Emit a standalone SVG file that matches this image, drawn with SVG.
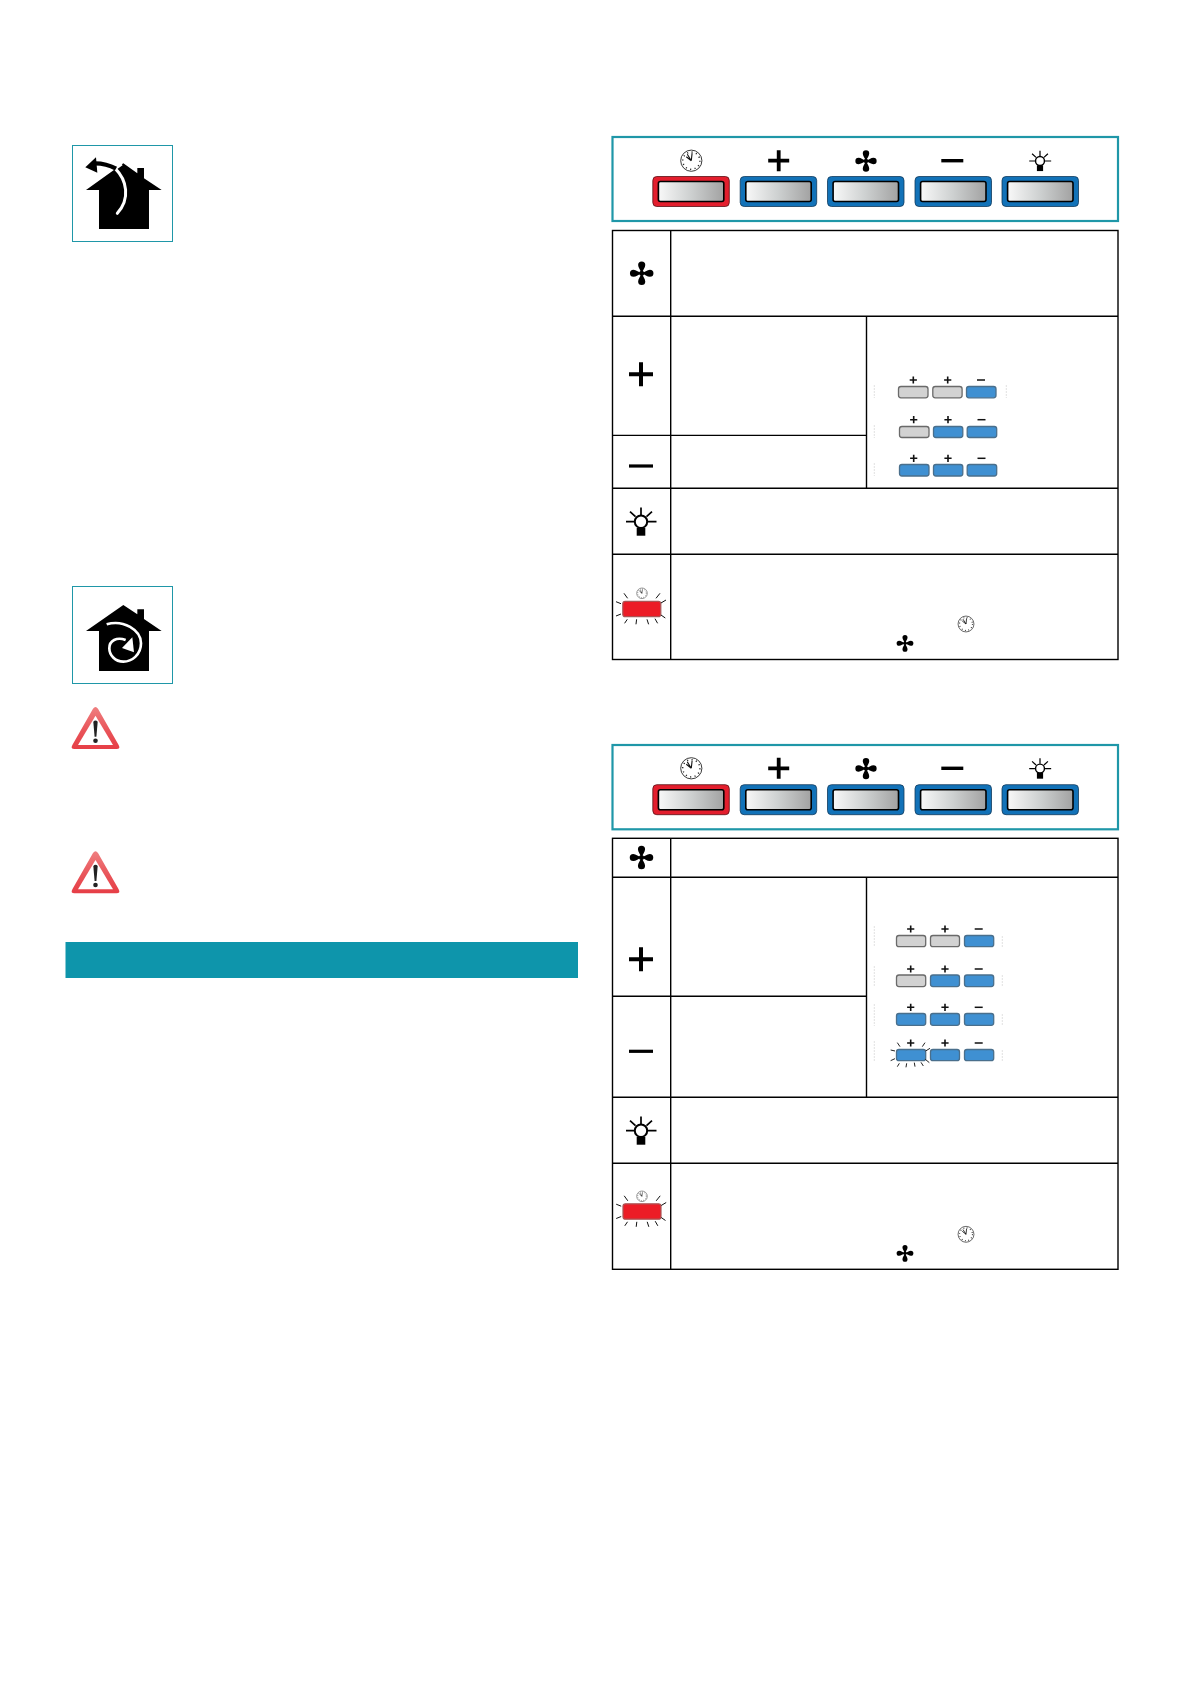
<svg xmlns="http://www.w3.org/2000/svg" width="1191" height="1684" viewBox="0 0 1191 1684">
<style>
.teal{fill:#fff;stroke:#1f97a8;stroke-width:1}
.panel{fill:#fff;stroke:#1f97a8;stroke-width:2.2}
.cell{fill:none;stroke:#000;stroke-width:1.4}
.bb{fill:#1272b8;stroke:#123a5c;stroke-width:.8}
.br{fill:#e31e2d;stroke:#5a1015;stroke-width:.8}
.in{fill:url(#g);stroke:#000;stroke-width:1.6}
.mg{fill:#d2d2d2;stroke:#6a6a6a;stroke-width:1.3}
.mb{fill:#3f90d2;stroke:#4a6f8c;stroke-width:1.3}
.ray{stroke:#111;stroke-width:1;fill:none}
.faint{stroke:#d4d4d4;stroke-width:.7;stroke-dasharray:2 1;fill:none}
.k{fill:#000}
</style>
<defs>
<linearGradient id="g" x1="0" x2="1" y1="0" y2="0"><stop offset="0" stop-color="#f8f8f8"/><stop offset=".5" stop-color="#cdd0d0"/><stop offset="1" stop-color="#a2a2a2"/></linearGradient>
<linearGradient id="tri" x1="0" x2="0" y1="0" y2="1"><stop offset="0" stop-color="#ef7f80"/><stop offset=".55" stop-color="#e9555a"/><stop offset="1" stop-color="#e63e46"/></linearGradient>
<g id="lobe"><path d="M0,0 C-1,-2.5 -3.4,-5.5 -3.4,-7.8 A3.4,3.4 0 1 1 3.4,-7.8 C3.4,-5.5 1,-2.5 0,0Z"/></g>
<g id="fan" class="k"><use href="#lobe"/><use href="#lobe" transform="rotate(90)"/><use href="#lobe" transform="rotate(180)"/><use href="#lobe" transform="rotate(270)"/><circle r="2.4"/></g>
<g id="clock"><circle r="10.6" fill="#fff" stroke="#222" stroke-width=".9"/><circle r="8.6" fill="none" stroke="#222" stroke-width="1.5" stroke-dasharray="1.1 3.4"/><path d="M0,0L-4,-6.4M0,0L.8,-7.6M0,0L-5,-4" stroke="#111" stroke-width="1.1" fill="none"/></g>
<g id="bulb"><path d="M0,-14.3V-6.7M-15,0H-7M7,0H15.5M-11,-10L-5.5,-5M11,-10L5.5,-5" stroke="#000" stroke-width="1.7" fill="none"/><circle r="6.2" fill="#fff" stroke="#000" stroke-width="2"/><rect x="-4.3" y="6" width="8.6" height="8" fill="#000"/></g>
<g id="mp"><path d="M-3.6,0H3.6M0,-3.6V3.6" stroke="#111" stroke-width="1.6" fill="none"/></g>
<g id="mm"><path d="M-4,0H4" stroke="#111" stroke-width="1.5" fill="none"/></g>
<g id="tri2"><path d="M-2.5,2 Q0,-1.5 2.5,2 L23,38 Q25.5,42.3 21,42.3 H-21 Q-25.5,42.3 -23,38Z" fill="url(#tri)"/><path d="M0,9 L17.5,38.2 H-17.5Z" fill="#fff"/><path d="M-2.2,15 Q0,12.5 2.2,15 L.9,30 H-.9Z" fill="#222"/><circle cy="34" r="2.3" fill="#222"/></g>
<g id="pbtnb"><rect x="0" y="0" width="76.5" height="30" rx="4" class="bb"/><rect x="5.6" y="5" width="65.4" height="20" rx="2" class="in"/></g>
<g id="pbtnr"><rect x="0" y="0" width="76.5" height="30" rx="4" class="br"/><rect x="5.6" y="5" width="65.4" height="20" rx="2" class="in"/></g>
<g id="flash"><rect x="-19" y="-7.7" width="38" height="15.4" rx="2.5" fill="#ec1c26" stroke="#a55" stroke-width="1.2"/><path d="M-17.8,-15.7L-14.2,-10.7M-25.8,-7.3L-20.8,-5.3M-25.8,7L-20.8,5M-17.2,14.3L-14.5,10.3M-5.8,15.3L-5.2,10.3M6.8,15.3L5.2,10.3M15.8,14.3L13.2,9.7M23.5,9L19.2,6M24.2,-9L19.2,-6M18.2,-15.7L14.2,-10.7" class="ray"/></g>
</defs>
<rect width="1191" height="1684" fill="#fff"/>

<g id="house-extract">
<rect class="teal" x="72.5" y="145.5" width="100" height="96"/>
<g transform="translate(60 130) scale(.3333)">
<path class="k" d="M190,100 L232,130 V114 H252 V145 L305,180 H267 V297 H117 V180 H78Z"/>
<path d="M166,116 C200,150 212,205 172,250" fill="none" stroke="#fff" stroke-width="9" stroke-linecap="round"/>
<path d="M168,116 L186,103" fill="none" stroke="#fff" stroke-width="6"/>
<path d="M105,100 C130,100 150,106 168,116" fill="none" stroke="#000" stroke-width="13"/>
<path class="k" d="M76,112 L108,82 L112,128Z"/>
</g>
</g>

<g id="house-recirc">
<rect class="teal" x="72.5" y="586.5" width="100" height="97"/>
<g transform="translate(60 580) scale(.3333)">
<path class="k" d="M190,75 L232,103 V88 H252 V117 L305,153 H267 V273 H117 V153 H78Z"/>
<path d="M140,133 C190,118 243,150 243,190 C243,225 215,245 190,245 C165,245 148,225 148,205 C148,182 170,170 197,180" fill="none" stroke="#fff" stroke-width="8"/>
<path fill="#fff" d="M217,172 L222,217 L186,204Z"/>
</g>
</g>

<g id="warning-1" transform="translate(95.5 706.7)"><use href="#tri2"/></g>
<g id="warning-2" transform="translate(95.5 851)"><use href="#tri2"/></g>

<rect id="band" x="65.5" y="942" width="512.5" height="36" fill="#0e95ab"/>

<g id="panel-1">
<rect class="panel" x="612.5" y="137" width="505.5" height="84"/>
<use href="#clock" x="691.3" y="160.7"/>
<path d="M768.2,160.7H789.2M778.7,150.2V171.2" stroke="#000" stroke-width="3.8" fill="none"/>
<use href="#fan" transform="translate(866 161) scale(.95)"/>
<path d="M941.3,160.7H963.3" stroke="#000" stroke-width="3.4"/>
<use href="#bulb" transform="translate(1040 161) scale(.72)"/>
<use href="#pbtnr" x="652.8" y="176.5"/>
<use href="#pbtnb" x="740.2" y="176.5"/>
<use href="#pbtnb" x="827.5" y="176.5"/>
<use href="#pbtnb" x="915" y="176.5"/>
<use href="#pbtnb" x="1002" y="176.5"/>
</g>

<g id="table-1">
<rect class="cell" x="612.5" y="230.5" width="505.5" height="429"/>
<path class="cell" d="M670.7,230.5V659.5M612.5,316.3H1118M866.5,316.3V488.2M612.5,435.4H866.5M612.5,488.2H1118M612.5,554.3H1118"/>
<use href="#fan" transform="translate(641.7 273.3) scale(1.05)"/>
<path d="M629,374.3H653M641,362.3V386.3" stroke="#000" stroke-width="4" fill="none"/>
<path d="M629,466H653" stroke="#000" stroke-width="3.2"/>
<use href="#bulb" x="641" y="521.7"/>
<use href="#flash" x="641.8" y="609"/>
<use href="#clock" transform="translate(642 593.3) scale(.5)"/>
<use href="#clock" transform="translate(966 624) scale(.75)"/>
<use href="#fan" transform="translate(905 643.3) scale(.75)"/>
<g id="mini-1">
<path class="faint" d="M874.3,385V398M1006.3,385V398M874.3,425V438M874.3,463V476"/>
<rect class="mg" x="898.5" y="386.5" width="29.5" height="11.3" rx="2.5"/><rect class="mg" x="932.8" y="386.5" width="29.3" height="11.3" rx="2.5"/><rect class="mb" x="966.5" y="386.5" width="29.5" height="11.3" rx="2.5"/>
<rect class="mg" x="899.5" y="426.5" width="29.5" height="11" rx="2.5"/><rect class="mb" x="933.5" y="426.5" width="29.3" height="11" rx="2.5"/><rect class="mb" x="967.2" y="426.5" width="29.5" height="11" rx="2.5"/>
<rect class="mb" x="899.5" y="464.5" width="29.5" height="11.5" rx="2.5"/><rect class="mb" x="933.5" y="464.5" width="29.3" height="11.5" rx="2.5"/><rect class="mb" x="967.2" y="464.5" width="29.5" height="11.5" rx="2.5"/>
<use href="#mp" x="913.3" y="380"/><use href="#mp" x="947.7" y="380"/><use href="#mm" x="981" y="380"/>
<use href="#mp" x="913.7" y="419.7"/><use href="#mp" x="948" y="419.7"/><use href="#mm" x="981.5" y="419.7"/>
<use href="#mp" x="913.7" y="458.3"/><use href="#mp" x="948" y="458.3"/><use href="#mm" x="981.5" y="458.3"/>
</g>
</g>

<g id="panel-2">
<rect class="panel" x="612.5" y="745" width="505.5" height="84.3"/>
<use href="#clock" x="691.3" y="768.3"/>
<path d="M768.2,768.3H789.2M778.7,757.8V778.8" stroke="#000" stroke-width="3.8" fill="none"/>
<use href="#fan" transform="translate(866 768.6) scale(.95)"/>
<path d="M941.3,768.3H963.3" stroke="#000" stroke-width="3.4"/>
<use href="#bulb" transform="translate(1040 768.6) scale(.72)"/>
<use href="#pbtnr" x="652.8" y="784.7"/>
<use href="#pbtnb" x="740.2" y="784.7"/>
<use href="#pbtnb" x="827.5" y="784.7"/>
<use href="#pbtnb" x="915" y="784.7"/>
<use href="#pbtnb" x="1002" y="784.7"/>
</g>

<g id="table-2">
<rect class="cell" x="612.5" y="838.3" width="505.5" height="431"/>
<path class="cell" d="M670.7,838.3V1269.3M612.5,877.3H1118M866.5,877.3V1097.3M612.5,996.3H866.5M612.5,1097.3H1118M612.5,1163.3H1118"/>
<use href="#fan" transform="translate(641.5 857.5) scale(1.05)"/>
<path d="M629,959.3H653M641,947.3V971.3" stroke="#000" stroke-width="4" fill="none"/>
<path d="M629,1051.3H653" stroke="#000" stroke-width="3.2"/>
<use href="#bulb" x="641" y="1130.7"/>
<use href="#flash" x="642" y="1211.5"/>
<use href="#clock" transform="translate(642 1196.3) scale(.5)"/>
<use href="#clock" transform="translate(966 1234.3) scale(.75)"/>
<use href="#fan" transform="translate(905 1253.3) scale(.75)"/>
<g id="mini-2">
<path class="faint" d="M874.3,926V947M1002.3,936V947M874.3,966V987M1002.3,975V987M874.3,1004V1026M1002.3,1014V1026M874.3,1041V1062M1002.3,1050V1061"/>
<rect class="mg" x="896.5" y="935.5" width="29.2" height="11.2" rx="2.5"/><rect class="mg" x="930.5" y="935.5" width="29" height="11.2" rx="2.5"/><rect class="mb" x="964.5" y="935.5" width="29.2" height="11.2" rx="2.5"/>
<rect class="mg" x="896.5" y="975" width="29.2" height="11.6" rx="2.5"/><rect class="mb" x="930.5" y="975" width="29" height="11.6" rx="2.5"/><rect class="mb" x="964.5" y="975" width="29.2" height="11.6" rx="2.5"/>
<rect class="mb" x="896.5" y="1013.5" width="29.2" height="11.8" rx="2.5"/><rect class="mb" x="930.5" y="1013.5" width="29" height="11.8" rx="2.5"/><rect class="mb" x="964.5" y="1013.5" width="29.2" height="11.8" rx="2.5"/>
<rect class="mb" x="896.5" y="1049.5" width="29.2" height="11.2" rx="2.5"/><rect class="mb" x="930.5" y="1049.5" width="29" height="11.2" rx="2.5"/><rect class="mb" x="964.5" y="1049.5" width="29.2" height="11.2" rx="2.5"/>
<use href="#mp" x="910.7" y="929"/><use href="#mp" x="945" y="929"/><use href="#mm" x="978.7" y="929"/>
<use href="#mp" x="910.7" y="969"/><use href="#mp" x="945" y="969"/><use href="#mm" x="978.7" y="969"/>
<use href="#mp" x="910.7" y="1007.3"/><use href="#mp" x="945" y="1007.3"/><use href="#mm" x="978.7" y="1007.3"/>
<use href="#mp" x="910.7" y="1043"/><use href="#mp" x="945" y="1043"/><use href="#mm" x="978.7" y="1043"/>
<g transform="translate(860 900) scale(.3333)"><path class="ray" style="stroke-width:2.8" d="M112,428L120,440M92,450L105,453M92,482L105,476M112,500L118,490M138,502L140,490M165,500L163,488M190,498L183,487M208,488L196,478M210,445L197,453M195,428L187,440"/></g>
</g>
</g>
</svg>
